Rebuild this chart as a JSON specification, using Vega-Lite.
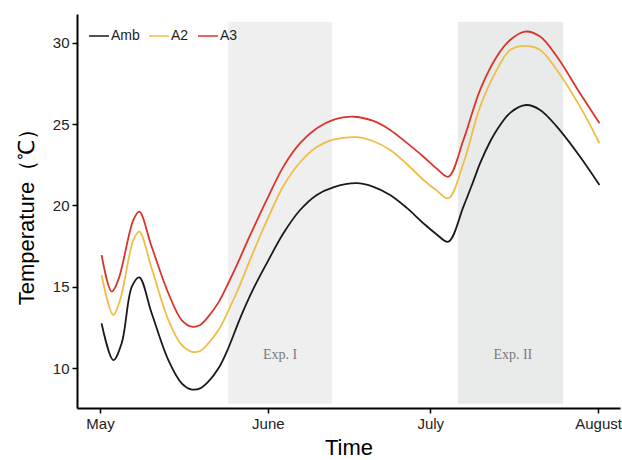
{
  "$schema": "https://vega.github.io/schema/vega-lite/v6.json",
  "width": 543,
  "height": 394,
  "autosize": {"type": "none"},
  "padding": {"left": 77, "top": 14, "right": 2, "bottom": 52},
  "background": "white",
  "config": {
    "view": {"stroke": null},
    "font": "Liberation Sans",
    "axis": {
      "grid": false,
      "domainColor": "#000000",
      "domainWidth": 2,
      "tickColor": "#000000",
      "tickWidth": 1.5,
      "tickSize": 5,
      "labelFont": "Liberation Sans",
      "labelFontSize": 15,
      "labelColor": "#222222",
      "titleFont": "Liberation Sans",
      "titleFontSize": 22,
      "titleFontWeight": "normal",
      "titleColor": "#000000"
    }
  },
  "datasets": {
    "periods": [
      {"label": "Exp. I", "start": "2019-05-24T16:00", "end": "2019-06-12T21:00", "mid": "2019-06-03T06:00"},
      {"label": "Exp. II", "start": "2019-07-06T03:00", "end": "2019-07-25T13:00", "mid": "2019-07-16T06:00"}
    ],
    "temps": [
      {"series": "Amb", "date": "2019-05-01T07:00", "temp": 12.75},
      {"series": "Amb", "date": "2019-05-03T11:00", "temp": 10.49},
      {"series": "Amb", "date": "2019-05-05T00:00", "temp": 11.52},
      {"series": "Amb", "date": "2019-05-06T21:00", "temp": 15.0},
      {"series": "Amb", "date": "2019-05-08T06:00", "temp": 15.58},
      {"series": "Amb", "date": "2019-05-10T13:00", "temp": 13.37},
      {"series": "Amb", "date": "2019-05-13T15:00", "temp": 10.49},
      {"series": "Amb", "date": "2019-05-16T02:00", "temp": 9.06},
      {"series": "Amb", "date": "2019-05-17T19:00", "temp": 8.69},
      {"series": "Amb", "date": "2019-05-19T12:00", "temp": 8.75},
      {"series": "Amb", "date": "2019-05-21T00:00", "temp": 9.16},
      {"series": "Amb", "date": "2019-05-23T00:00", "temp": 10.05},
      {"series": "Amb", "date": "2019-05-24T16:00", "temp": 11.2},
      {"series": "Amb", "date": "2019-05-26T21:00", "temp": 13.06},
      {"series": "Amb", "date": "2019-05-29T07:00", "temp": 14.85},
      {"series": "Amb", "date": "2019-05-31T19:00", "temp": 16.44},
      {"series": "Amb", "date": "2019-06-03T21:00", "temp": 18.29},
      {"series": "Amb", "date": "2019-06-06T23:00", "temp": 19.72},
      {"series": "Amb", "date": "2019-06-10T01:00", "temp": 20.65},
      {"series": "Amb", "date": "2019-06-13T02:00", "temp": 21.12},
      {"series": "Amb", "date": "2019-06-17T10:00", "temp": 21.37},
      {"series": "Amb", "date": "2019-06-20T12:00", "temp": 21.15},
      {"series": "Amb", "date": "2019-06-23T14:00", "temp": 20.65},
      {"series": "Amb", "date": "2019-06-26T16:00", "temp": 19.85},
      {"series": "Amb", "date": "2019-06-29T18:00", "temp": 18.9},
      {"series": "Amb", "date": "2019-07-02T02:00", "temp": 18.25},
      {"series": "Amb", "date": "2019-07-04T08:00", "temp": 17.77},
      {"series": "Amb", "date": "2019-07-07T03:00", "temp": 19.93},
      {"series": "Amb", "date": "2019-07-08T23:00", "temp": 21.5},
      {"series": "Amb", "date": "2019-07-10T05:00", "temp": 22.6},
      {"series": "Amb", "date": "2019-07-12T02:00", "temp": 23.95},
      {"series": "Amb", "date": "2019-07-13T07:00", "temp": 24.65},
      {"series": "Amb", "date": "2019-07-15T18:00", "temp": 25.7},
      {"series": "Amb", "date": "2019-07-18T17:00", "temp": 26.18},
      {"series": "Amb", "date": "2019-07-21T07:00", "temp": 25.88},
      {"series": "Amb", "date": "2019-07-24T09:00", "temp": 24.85},
      {"series": "Amb", "date": "2019-07-28T16:00", "temp": 23.0},
      {"series": "Amb", "date": "2019-08-01T06:00", "temp": 21.26},

      {"series": "A2", "date": "2019-05-01T07:00", "temp": 15.72},
      {"series": "A2", "date": "2019-05-03T11:00", "temp": 13.26},
      {"series": "A2", "date": "2019-05-04T17:00", "temp": 14.18},
      {"series": "A2", "date": "2019-05-07T04:00", "temp": 17.88},
      {"series": "A2", "date": "2019-05-08T06:00", "temp": 18.39},
      {"series": "A2", "date": "2019-05-10T13:00", "temp": 16.14},
      {"series": "A2", "date": "2019-05-13T15:00", "temp": 12.95},
      {"series": "A2", "date": "2019-05-16T02:00", "temp": 11.42},
      {"series": "A2", "date": "2019-05-17T23:00", "temp": 11.0},
      {"series": "A2", "date": "2019-05-19T12:00", "temp": 11.05},
      {"series": "A2", "date": "2019-05-21T00:00", "temp": 11.52},
      {"series": "A2", "date": "2019-05-23T00:00", "temp": 12.4},
      {"series": "A2", "date": "2019-05-24T16:00", "temp": 13.5},
      {"series": "A2", "date": "2019-05-26T17:00", "temp": 15.0},
      {"series": "A2", "date": "2019-05-28T17:00", "temp": 16.65},
      {"series": "A2", "date": "2019-05-31T19:00", "temp": 19.05},
      {"series": "A2", "date": "2019-06-03T21:00", "temp": 21.2},
      {"series": "A2", "date": "2019-06-06T23:00", "temp": 22.66},
      {"series": "A2", "date": "2019-06-10T01:00", "temp": 23.6},
      {"series": "A2", "date": "2019-06-13T02:00", "temp": 24.05},
      {"series": "A2", "date": "2019-06-17T10:00", "temp": 24.2},
      {"series": "A2", "date": "2019-06-20T12:00", "temp": 23.95},
      {"series": "A2", "date": "2019-06-23T14:00", "temp": 23.42},
      {"series": "A2", "date": "2019-06-26T16:00", "temp": 22.55},
      {"series": "A2", "date": "2019-06-29T18:00", "temp": 21.57},
      {"series": "A2", "date": "2019-07-02T02:00", "temp": 20.95},
      {"series": "A2", "date": "2019-07-04T08:00", "temp": 20.44},
      {"series": "A2", "date": "2019-07-07T03:00", "temp": 22.6},
      {"series": "A2", "date": "2019-07-10T05:00", "temp": 26.08},
      {"series": "A2", "date": "2019-07-13T07:00", "temp": 28.34},
      {"series": "A2", "date": "2019-07-15T18:00", "temp": 29.57},
      {"series": "A2", "date": "2019-07-18T12:00", "temp": 29.82},
      {"series": "A2", "date": "2019-07-21T07:00", "temp": 29.57},
      {"series": "A2", "date": "2019-07-24T09:00", "temp": 28.34},
      {"series": "A2", "date": "2019-07-28T16:00", "temp": 26.08},
      {"series": "A2", "date": "2019-08-01T06:00", "temp": 23.83},

      {"series": "A3", "date": "2019-05-01T07:00", "temp": 16.95},
      {"series": "A3", "date": "2019-05-03T04:00", "temp": 14.7},
      {"series": "A3", "date": "2019-05-04T09:00", "temp": 15.42},
      {"series": "A3", "date": "2019-05-07T04:00", "temp": 19.11},
      {"series": "A3", "date": "2019-05-08T06:00", "temp": 19.62},
      {"series": "A3", "date": "2019-05-10T13:00", "temp": 17.46},
      {"series": "A3", "date": "2019-05-13T15:00", "temp": 14.6},
      {"series": "A3", "date": "2019-05-16T02:00", "temp": 12.95},
      {"series": "A3", "date": "2019-05-17T23:00", "temp": 12.54},
      {"series": "A3", "date": "2019-05-19T12:00", "temp": 12.65},
      {"series": "A3", "date": "2019-05-21T00:00", "temp": 13.16},
      {"series": "A3", "date": "2019-05-23T00:00", "temp": 14.1},
      {"series": "A3", "date": "2019-05-24T16:00", "temp": 15.2},
      {"series": "A3", "date": "2019-05-26T12:00", "temp": 16.5},
      {"series": "A3", "date": "2019-05-28T12:00", "temp": 18.0},
      {"series": "A3", "date": "2019-05-31T19:00", "temp": 20.34},
      {"series": "A3", "date": "2019-06-03T21:00", "temp": 22.39},
      {"series": "A3", "date": "2019-06-06T23:00", "temp": 23.83},
      {"series": "A3", "date": "2019-06-10T01:00", "temp": 24.75},
      {"series": "A3", "date": "2019-06-13T02:00", "temp": 25.26},
      {"series": "A3", "date": "2019-06-16T19:00", "temp": 25.46},
      {"series": "A3", "date": "2019-06-20T12:00", "temp": 25.2},
      {"series": "A3", "date": "2019-06-23T14:00", "temp": 24.65},
      {"series": "A3", "date": "2019-06-26T16:00", "temp": 23.85},
      {"series": "A3", "date": "2019-06-29T18:00", "temp": 23.0},
      {"series": "A3", "date": "2019-07-02T02:00", "temp": 22.3},
      {"series": "A3", "date": "2019-07-04T08:00", "temp": 21.77},
      {"series": "A3", "date": "2019-07-07T03:00", "temp": 24.03},
      {"series": "A3", "date": "2019-07-10T05:00", "temp": 27.11},
      {"series": "A3", "date": "2019-07-13T07:00", "temp": 29.16},
      {"series": "A3", "date": "2019-07-15T18:00", "temp": 30.18},
      {"series": "A3", "date": "2019-07-18T12:00", "temp": 30.7},
      {"series": "A3", "date": "2019-07-21T07:00", "temp": 30.39},
      {"series": "A3", "date": "2019-07-24T09:00", "temp": 29.16},
      {"series": "A3", "date": "2019-07-28T16:00", "temp": 26.9},
      {"series": "A3", "date": "2019-08-01T06:00", "temp": 25.06}
    ]
  },
  "layer": [
    {
      "data": {"name": "periods"},
      "mark": {"type": "rect"},
      "encoding": {
        "x": {
          "field": "start",
          "type": "temporal",
          "scale": {
            "domain": [
              {"year": 2019, "month": 4, "date": 26, "hours": 18},
              {"year": 2019, "month": 8, "date": 5, "hours": 1}
            ]
          },
          "axis": {
            "title": "Time",
            "values": [
              {"year": 2019, "month": 5, "date": 1},
              {"year": 2019, "month": 6, "date": 1},
              {"year": 2019, "month": 7, "date": 1},
              {"year": 2019, "month": 8, "date": 1}
            ],
            "format": "%B",
            "labelPadding": 3,
            "titlePadding": 6
          }
        },
        "x2": {"field": "end"},
        "y": {"datum": 7.8, "type": "quantitative"},
        "y2": {"datum": 31.3},
        "fill": {
          "field": "label",
          "type": "nominal",
          "scale": {"domain": ["Exp. I", "Exp. II"], "range": ["#efefef", "#e9ebeb"]},
          "legend": null
        }
      }
    },
    {
      "data": {"name": "periods"},
      "mark": {"type": "text", "font": "Liberation Serif", "fontSize": 14, "color": "#7a7a7a", "baseline": "middle", "align": "center"},
      "encoding": {
        "x": {"field": "mid", "type": "temporal"},
        "y": {"datum": 10.8, "type": "quantitative"},
        "text": {"field": "label"}
      }
    },
    {
      "data": {"name": "temps"},
      "mark": {"type": "line", "interpolate": "catmull-rom", "strokeWidth": 1.8},
      "encoding": {
        "x": {"field": "date", "type": "temporal"},
        "y": {
          "field": "temp",
          "type": "quantitative",
          "scale": {"domain": [7.54, 31.78], "nice": false, "zero": false},
          "axis": {
            "title": "Temperature（℃）",
            "values": [10, 15, 20, 25, 30],
            "labelPadding": 3,
            "titlePadding": 14
          }
        },
        "color": {
          "field": "series",
          "type": "nominal",
          "sort": ["Amb", "A2", "A3"],
          "scale": {"domain": ["Amb", "A2", "A3"], "range": ["#1a1a1a", "#f0bd48", "#d8352c"]},
          "legend": {
            "title": null,
            "orient": "none",
            "legendX": 11,
            "legendY": 11,
            "direction": "horizontal",
            "symbolType": "stroke",
            "symbolSize": 400,
            "symbolStrokeWidth": 1.5,
            "labelFont": "Liberation Sans",
            "labelFontSize": 14,
            "labelColor": "#222222",
            "labelOffset": 1,
            "columnPadding": 6
          }
        }
      }
    }
  ]
}
